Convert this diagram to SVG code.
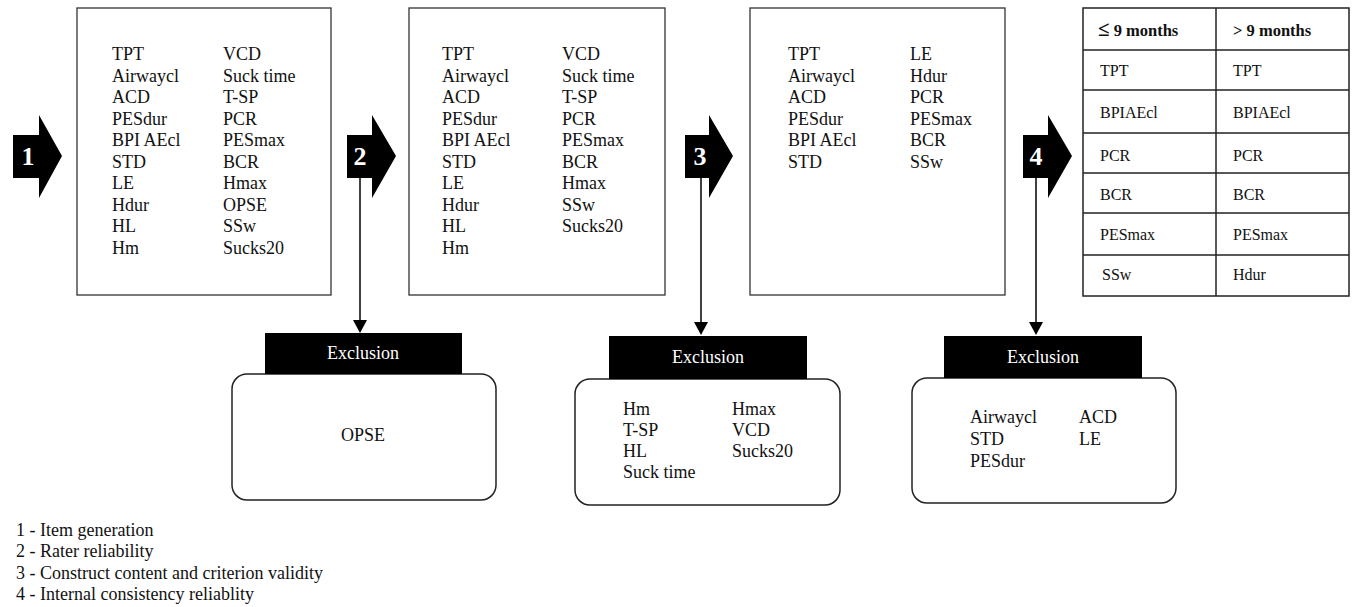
<svg xmlns="http://www.w3.org/2000/svg" width="1356" height="607" viewBox="0 0 1356 607">
<style>
.t{font-family:"Liberation Serif","Times New Roman",serif;font-size:18px;fill:#111}
.tb{font-family:"Liberation Serif","Times New Roman",serif;font-size:16px;fill:#111}
.hd{font-family:"Liberation Serif","Times New Roman",serif;font-size:16.5px;font-weight:bold;fill:#111}
.num{font-family:"Liberation Serif","Times New Roman",serif;font-size:26px;font-weight:bold;fill:#fff;text-anchor:middle}
.ex{font-family:"Liberation Serif","Times New Roman",serif;font-size:18px;fill:#fff;text-anchor:middle}
.lg{font-family:"Liberation Serif","Times New Roman",serif;font-size:18px;fill:#111}
.box{fill:#fff;stroke:#333;stroke-width:1.3}
.rbox{fill:#fff;stroke:#222;stroke-width:1.5}
.blk{fill:#000}
.ln{stroke:#000;stroke-width:1.5;fill:none}
.grid{stroke:#222;stroke-width:1.5;fill:none}
</style>
<rect width="1356" height="607" fill="#fff"/>

<g id="connectors">
<line class="ln" x1="360" y1="178" x2="360" y2="321"/>
<polygon points="353,320 367,320 360,333" fill="#000"/>
<line class="ln" x1="701" y1="178" x2="701" y2="323"/>
<polygon points="694,322 708,322 701,335" fill="#000"/>
<line class="ln" x1="1036" y1="178" x2="1036" y2="323"/>
<polygon points="1029,322 1043,322 1036,335" fill="#000"/>
</g>

<g id="arrow1">
<polygon class="blk" points="13,135 39,135 39,115 62,156 39,198 39,178 13,178"/>
<text class="num" x="28" y="165">1</text>
</g>
<g id="arrow2">
<polygon class="blk" points="347,135 372,135 372,115 396,156 372,198 372,178 347,178"/>
<text class="num" x="360" y="165">2</text>
</g>
<g id="arrow3">
<polygon class="blk" points="685,135 709,135 709,115 733,156 709,198 709,178 685,178"/>
<text class="num" x="700" y="165">3</text>
</g>
<g id="arrow4">
<polygon class="blk" points="1023,135 1048,135 1048,115 1072,156 1048,198 1048,178 1023,178"/>
<text class="num" x="1036" y="165">4</text>
</g>

<g id="box1">
<rect class="box" x="77" y="8" width="254" height="287"/>
<text class="t" x="112" y="60">TPT</text>
<text class="t" x="112" y="81.5">Airwaycl</text>
<text class="t" x="112" y="103">ACD</text>
<text class="t" x="112" y="124.5">PESdur</text>
<text class="t" x="112" y="146">BPI AEcl</text>
<text class="t" x="112" y="167.5">STD</text>
<text class="t" x="112" y="189">LE</text>
<text class="t" x="112" y="210.5">Hdur</text>
<text class="t" x="112" y="232">HL</text>
<text class="t" x="112" y="253.5">Hm</text>
<text class="t" x="223" y="60">VCD</text>
<text class="t" x="223" y="81.5">Suck time</text>
<text class="t" x="223" y="103">T-SP</text>
<text class="t" x="223" y="124.5">PCR</text>
<text class="t" x="223" y="146">PESmax</text>
<text class="t" x="223" y="167.5">BCR</text>
<text class="t" x="223" y="189">Hmax</text>
<text class="t" x="223" y="210.5">OPSE</text>
<text class="t" x="223" y="232">SSw</text>
<text class="t" x="223" y="253.5">Sucks20</text>
</g>

<g id="box2">
<rect class="box" x="409" y="8" width="256" height="287"/>
<text class="t" x="442" y="60">TPT</text>
<text class="t" x="442" y="81.5">Airwaycl</text>
<text class="t" x="442" y="103">ACD</text>
<text class="t" x="442" y="124.5">PESdur</text>
<text class="t" x="442" y="146">BPI AEcl</text>
<text class="t" x="442" y="167.5">STD</text>
<text class="t" x="442" y="189">LE</text>
<text class="t" x="442" y="210.5">Hdur</text>
<text class="t" x="442" y="232">HL</text>
<text class="t" x="442" y="253.5">Hm</text>
<text class="t" x="562" y="60">VCD</text>
<text class="t" x="562" y="81.5">Suck time</text>
<text class="t" x="562" y="103">T-SP</text>
<text class="t" x="562" y="124.5">PCR</text>
<text class="t" x="562" y="146">PESmax</text>
<text class="t" x="562" y="167.5">BCR</text>
<text class="t" x="562" y="189">Hmax</text>
<text class="t" x="562" y="210.5">SSw</text>
<text class="t" x="562" y="232">Sucks20</text>
</g>

<g id="box3">
<rect class="box" x="750" y="8" width="255" height="287"/>
<text class="t" x="788" y="60">TPT</text>
<text class="t" x="788" y="81.5">Airwaycl</text>
<text class="t" x="788" y="103">ACD</text>
<text class="t" x="788" y="124.5">PESdur</text>
<text class="t" x="788" y="146">BPI AEcl</text>
<text class="t" x="788" y="167.5">STD</text>
<text class="t" x="910" y="60">LE</text>
<text class="t" x="910" y="81.5">Hdur</text>
<text class="t" x="910" y="103">PCR</text>
<text class="t" x="910" y="124.5">PESmax</text>
<text class="t" x="910" y="146">BCR</text>
<text class="t" x="910" y="167.5">SSw</text>
</g>

<g id="table">
<rect class="grid" x="1083" y="8" width="266" height="288"/>
<line class="grid" x1="1216" y1="8" x2="1216" y2="296"/>
<line class="grid" x1="1083" y1="50" x2="1349" y2="50"/>
<line class="grid" x1="1083" y1="90" x2="1349" y2="90"/>
<line class="grid" x1="1083" y1="133" x2="1349" y2="133"/>
<line class="grid" x1="1083" y1="173" x2="1349" y2="173"/>
<line class="grid" x1="1083" y1="213" x2="1349" y2="213"/>
<line class="grid" x1="1083" y1="255" x2="1349" y2="255"/>
<text class="hd" x="1098" y="36"><tspan style="font-size:21px">≤</tspan> 9 months</text>
<text class="hd" x="1233" y="36">&gt; 9 months</text>
<text class="tb" x="1100" y="76">TPT</text>
<text class="tb" x="1233" y="76">TPT</text>
<text class="tb" x="1100" y="118">BPIAEcl</text>
<text class="tb" x="1233" y="118">BPIAEcl</text>
<text class="tb" x="1100" y="161">PCR</text>
<text class="tb" x="1233" y="161">PCR</text>
<text class="tb" x="1100" y="200">BCR</text>
<text class="tb" x="1233" y="200">BCR</text>
<text class="tb" x="1100" y="240">PESmax</text>
<text class="tb" x="1233" y="240">PESmax</text>
<text class="tb" x="1102" y="280">SSw</text>
<text class="tb" x="1233" y="280">Hdur</text>
</g>

<g id="exclusion1">
<rect class="rbox" x="232" y="374" width="264" height="126" rx="15" ry="15"/>
<rect class="blk" x="265" y="333" width="197" height="41"/>
<text class="ex" x="363" y="359">Exclusion</text>
<text class="t" x="363" y="441" text-anchor="middle">OPSE</text>
</g>

<g id="exclusion2">
<rect class="rbox" x="575" y="379" width="265" height="126" rx="15" ry="15"/>
<rect class="blk" x="609" y="336" width="198" height="43"/>
<text class="ex" x="708" y="363">Exclusion</text>
<text class="t" x="623" y="415">Hm</text>
<text class="t" x="623" y="436">T-SP</text>
<text class="t" x="623" y="457">HL</text>
<text class="t" x="623" y="478">Suck time</text>
<text class="t" x="732" y="415">Hmax</text>
<text class="t" x="732" y="436">VCD</text>
<text class="t" x="732" y="457">Sucks20</text>
</g>

<g id="exclusion3">
<rect class="rbox" x="912" y="378" width="264" height="125" rx="15" ry="15"/>
<rect class="blk" x="944" y="336" width="198" height="42"/>
<text class="ex" x="1043" y="363">Exclusion</text>
<text class="t" x="970" y="423">Airwaycl</text>
<text class="t" x="970" y="445">STD</text>
<text class="t" x="970" y="467">PESdur</text>
<text class="t" x="1079" y="423">ACD</text>
<text class="t" x="1079" y="445">LE</text>
</g>

<g id="legend">
<text class="lg" x="16" y="536">1 - Item generation</text>
<text class="lg" x="16" y="557">2 - Rater reliability</text>
<text class="lg" x="16" y="579">3 - Construct content and criterion validity</text>
<text class="lg" x="16" y="600">4 - Internal consistency reliablity</text>
</g>
</svg>
